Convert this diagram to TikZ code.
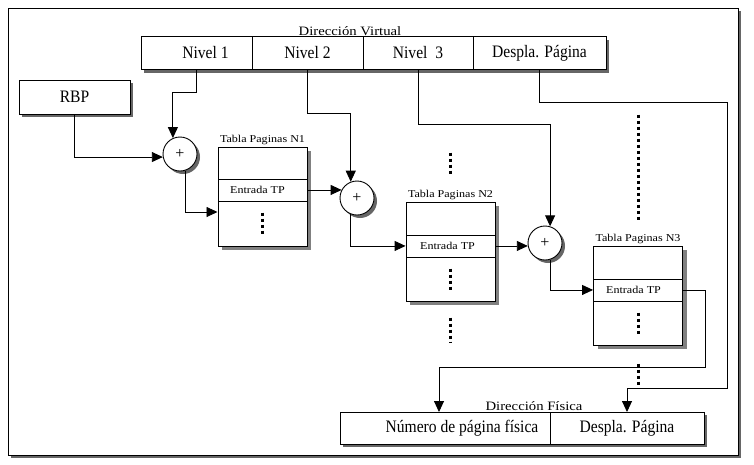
\documentclass[tikz,border=0pt]{standalone}
\usepackage{fontspec}
\setmainfont{Liberation Serif}
\newfontfamily\celdafont[FakeStretch=0.89]{Liberation Serif}
\newfontfamily\rotulofont[FakeStretch=1.15]{Liberation Serif}
\usetikzlibrary{positioning,shadows,arrows.meta}
\tikzset{%
	sombra/.style = {drop shadow={shadow xshift=3pt,shadow yshift=-3pt,fill=black!60,opacity=1}},
	celda/.style = {draw,line width=1pt,fill=white,minimum height=33pt,inner sep=0pt,outer sep=0pt,sombra,font=\celdafont\fontsize{17.5}{20}\selectfont},
	suma/.style = {circle,draw,line width=0.9pt,fill=white,minimum size=34pt,inner sep=0pt,sombra,font=\fontsize{16}{18}\selectfont},
	tabla/.style = {draw,line width=1pt,fill=white,minimum width=89pt,minimum height=99pt,inner sep=0pt,drop shadow={shadow xshift=4pt,shadow yshift=-4pt,fill=black!50,opacity=1}},
	entrada/.style = {draw,line width=0.9pt,minimum width=89pt,minimum height=22pt,inner sep=0pt,font=\rotulofont\fontsize{10.5}{12}\selectfont},
	rotulo/.style = {inner sep=1pt,font=\rotulofont\fontsize{12.8}{15}\selectfont},
	chico/.style = {inner sep=1.5pt,font=\rotulofont\fontsize{10.5}{12}\selectfont},
	flecha/.style = {line width=0.9pt,-{Triangle[length=11pt,width=10pt]}},
	puntos/.style = {line width=3pt,dash pattern=on 3pt off 3pt}%
}

\begin{document}
\begin{tikzpicture}[x=1pt,y=-1pt]
	\useasboundingbox (0,0) rectangle (754,464);
	\node[draw,fill=white,line width=1pt,minimum width=730pt,minimum height=447pt,inner sep=0pt,sombra] (marco) at (373,231.5) {};
	
	% direccion virtual
	\node[celda,minimum width=111pt] (v1) at (196.5,53) {\hspace*{18pt}Nivel 1};
	\node[celda,minimum width=111pt,right=0pt of v1] (v2) {Nivel 2};
	\node[celda,minimum width=110pt,right=0pt of v2] (v3) {Nivel\ \ 3};
	\node[celda,minimum width=133pt,right=0pt of v3] (v4) {Despla. Página};
	\node[rotulo,anchor=south] (dv) at ([xshift=-13pt]v3.north west) {Dirección Virtual};
	
	\node[celda,minimum width=111pt,minimum height=34pt] (rbp) at (74.5,97) {RBP};
	
	% sumadores
	\node[suma] (c1) at (180,154) {+};
	\node[suma] (c2) at (357,198) {+};
	\node[suma] (c3) at (545,243) {+};
	
	% tablas de paginas
	\node[tabla,label={[chico]above:Tabla Paginas N1}] (t1) at (262.5,196.5) {};
	\node[entrada,below=32pt of t1.north] (e1) {Entrada TP\hspace*{10pt}};
	\node[tabla,label={[chico]above:Tabla Paginas N2}] (t2) at (450.5,251.5) {};
	\node[entrada,below=33pt of t2.north] (e2) {Entrada TP\hspace*{6pt}};
	\node[tabla,label={[chico]above:Tabla Paginas N3}] (t3) at (638,295.5) {};
	\node[entrada,below=33pt of t3.north] (e3) {Entrada TP\hspace*{9pt}};
	
	% direccion fisica
	\node[celda,minimum width=210pt,minimum height=32pt] (p1) at (445,428) {\hspace*{34pt}Número de página física};
	\node[celda,minimum width=154pt,minimum height=32pt,right=0pt of p1] (p2) {Despla. Página};
	\node[rotulo,anchor=south] (df) at ([xshift=-16pt]p2.north west) {Dirección Física};
	
	% puntos
	\draw[puntos] ([yshift=34pt]t1.south) -- ([yshift=12pt]t1.south);
	\draw[puntos] ([yshift=33pt]t2.south) -- ([yshift=11pt]t2.south);
	\draw[puntos] ([yshift=33pt]t3.south) -- ([yshift=12pt]t3.south);
	\draw[puntos] ([yshift=49pt]t2.north) -- ([yshift=25pt]t2.north);
	\draw[puntos] ([yshift=-16pt]t2.south) -- ([yshift=-41pt]t2.south);
	\draw[puntos] ([yshift=131pt]t3.north) -- ([yshift=24pt]t3.north);
	\draw[puntos] ([yshift=-18pt]t3.south) -- ([yshift=-42pt]t3.south);
	
	% conexiones
	\draw[flecha] (v1.south) -- ++(0,23) -| (c1.114);
	\draw[flecha] (rbp.south) |- (c1.190);
	\draw[flecha] (c1.287) |- ([yshift=-15.5pt]t1.west);
	\draw[flecha] (e1.east) -- (e1.east -| c2.152);
	\draw[flecha] (v2.south) -- ++(0,44) -| (c2.111);
	\draw[flecha] (c2.249) |- (e2.west);
	\draw[flecha] (e2.east) -- (e2.east -| c3.190);
	\draw[flecha] (v3.south) -- ++(0,55) -| (c3.73);
	\draw[flecha] (c3.287) |- (e3.west);
	\coordinate (k1) at (705,367);
	\coordinate (k2) at (727,388);
	\draw[flecha] (e3.east) -| (k1) -| ([xshift=-6pt]p1.north);
	\draw[flecha] (v4.south) -- ++(0,33) -| (k2) -| (p2.north);
\end{tikzpicture}
\end{document}
